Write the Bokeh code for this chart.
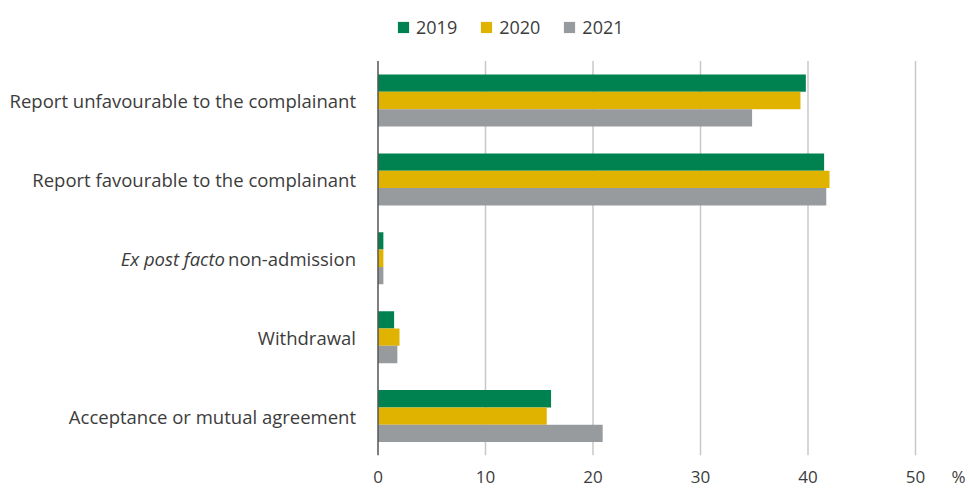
from bokeh.plotting import figure
from bokeh.models import (ColumnDataSource, Range1d, FixedTicker, Legend, LegendItem)
from bokeh.core.properties import value
from bokeh.embed import file_html
from bokeh.resources import INLINE

categories = [
    "Report unfavourable to the complainant",
    "Report favourable to the complainant",
    "Ex post facto non-admission",
    "Withdrawal",
    "Acceptance or mutual agreement",
]
italic_part = "Ex post facto"
years = ["2019", "2020", "2021"]
v2019 = [39.8, 41.5, 0.5, 1.5, 16.1]
v2020 = [39.3, 42.0, 0.5, 2.0, 15.7]
v2021 = [34.8, 41.7, 0.5, 1.8, 20.9]
x_ticks = [0, 10, 20, 30, 40, 50]
unit_label = "%"

colors = ["#008150", "#E0B300", "#979B9D"]
text_color = "#3c3c3c"
grid_color = "#c8c8c8"
FONT = "Open Sans"
FS_TICK = "17px"
FS_LEG = "18px"
FS_CAT = "18.5px"

W, H = 970, 490
px_per_unit = 10.75
zero_px = 377.5
frame_h = 458
band_px = 79.4
n = len(categories)
ypos = [n - 1 - i for i in range(n)]
bar_h = 0.22
offsets = [bar_h, 0.0, -bar_h]

p = figure(width=W, height=H, output_backend="svg", toolbar_location=None,
           x_range=Range1d(-zero_px / px_per_unit, (W - zero_px) / px_per_unit),
           y_range=Range1d(-0.5, -0.5 + frame_h / band_px),
           min_border_left=0, min_border_right=0, min_border_top=0,
           min_border_bottom=H - frame_h)
p.outline_line_color = None
p.background_fill_color = "white"
p.border_fill_color = "white"
p.yaxis.visible = False
p.xgrid.visible = False
p.ygrid.visible = False

# vertical gridlines over the category band only
gl = x_ticks[1:]
p.segment(x0=gl, x1=gl, y0=[-0.5] * len(gl), y1=[n - 0.5] * len(gl),
          line_color=grid_color, line_width=1.5)

renderers = []
for vals, off, col in zip([v2019, v2020, v2021], offsets, colors):
    src = ColumnDataSource(dict(y=[y + off for y in ypos], right=vals))
    r = p.hbar(y="y", left=0, right="right", height=bar_h, source=src,
               fill_color=col, line_color=None)
    renderers.append(r)

# zero line
p.segment(x0=[0], x1=[0], y0=[-0.5], y1=[n - 0.5], line_color="#555555", line_width=1.5)

# x axis
unit_pos = 54.0
p.xaxis.ticker = FixedTicker(ticks=x_ticks + [unit_pos])
p.xaxis.major_label_overrides = {unit_pos: unit_label}
p.xaxis.axis_line_color = None
p.xaxis.major_tick_line_color = None
p.xaxis.minor_tick_line_color = None
p.xaxis.major_tick_out = 0
p.xaxis.major_tick_in = 0
p.xaxis.minor_tick_out = 0
p.xaxis.major_label_text_font = FONT
p.xaxis.major_label_text_font_size = FS_TICK
p.xaxis.major_label_text_color = text_color
p.xaxis.major_label_standoff = 9

# category labels
standoff = 22
plain = [c if c != categories[2] else c[len(italic_part) + 1:] for c in categories]
p.text(x=0, y=ypos, text=plain, x_offset=-standoff, text_align="right",
       text_baseline="middle", text_font=value(FONT), text_font_size=FS_CAT,
       text_color=text_color)
p.text(x=[0], y=[ypos[2]], text=[italic_part], x_offset=-(standoff + 131),
       text_align="right", text_baseline="middle", text_font=value(FONT),
       text_font_size=FS_CAT, text_font_style="italic", text_color=text_color)

legend = Legend(items=[LegendItem(label=yr, renderers=[r]) for yr, r in zip(years, renderers)],
                orientation="horizontal", location=(396, frame_h - 42),
                glyph_width=14, glyph_height=14, label_standoff=6, spacing=22,
                label_text_font=FONT, label_text_font_size=FS_LEG, label_text_color=text_color,
                border_line_color=None, background_fill_alpha=0, padding=0, margin=0,
                label_height=14)
p.add_layout(legend)

open("out.html", "w").write(file_html(p, INLINE))
